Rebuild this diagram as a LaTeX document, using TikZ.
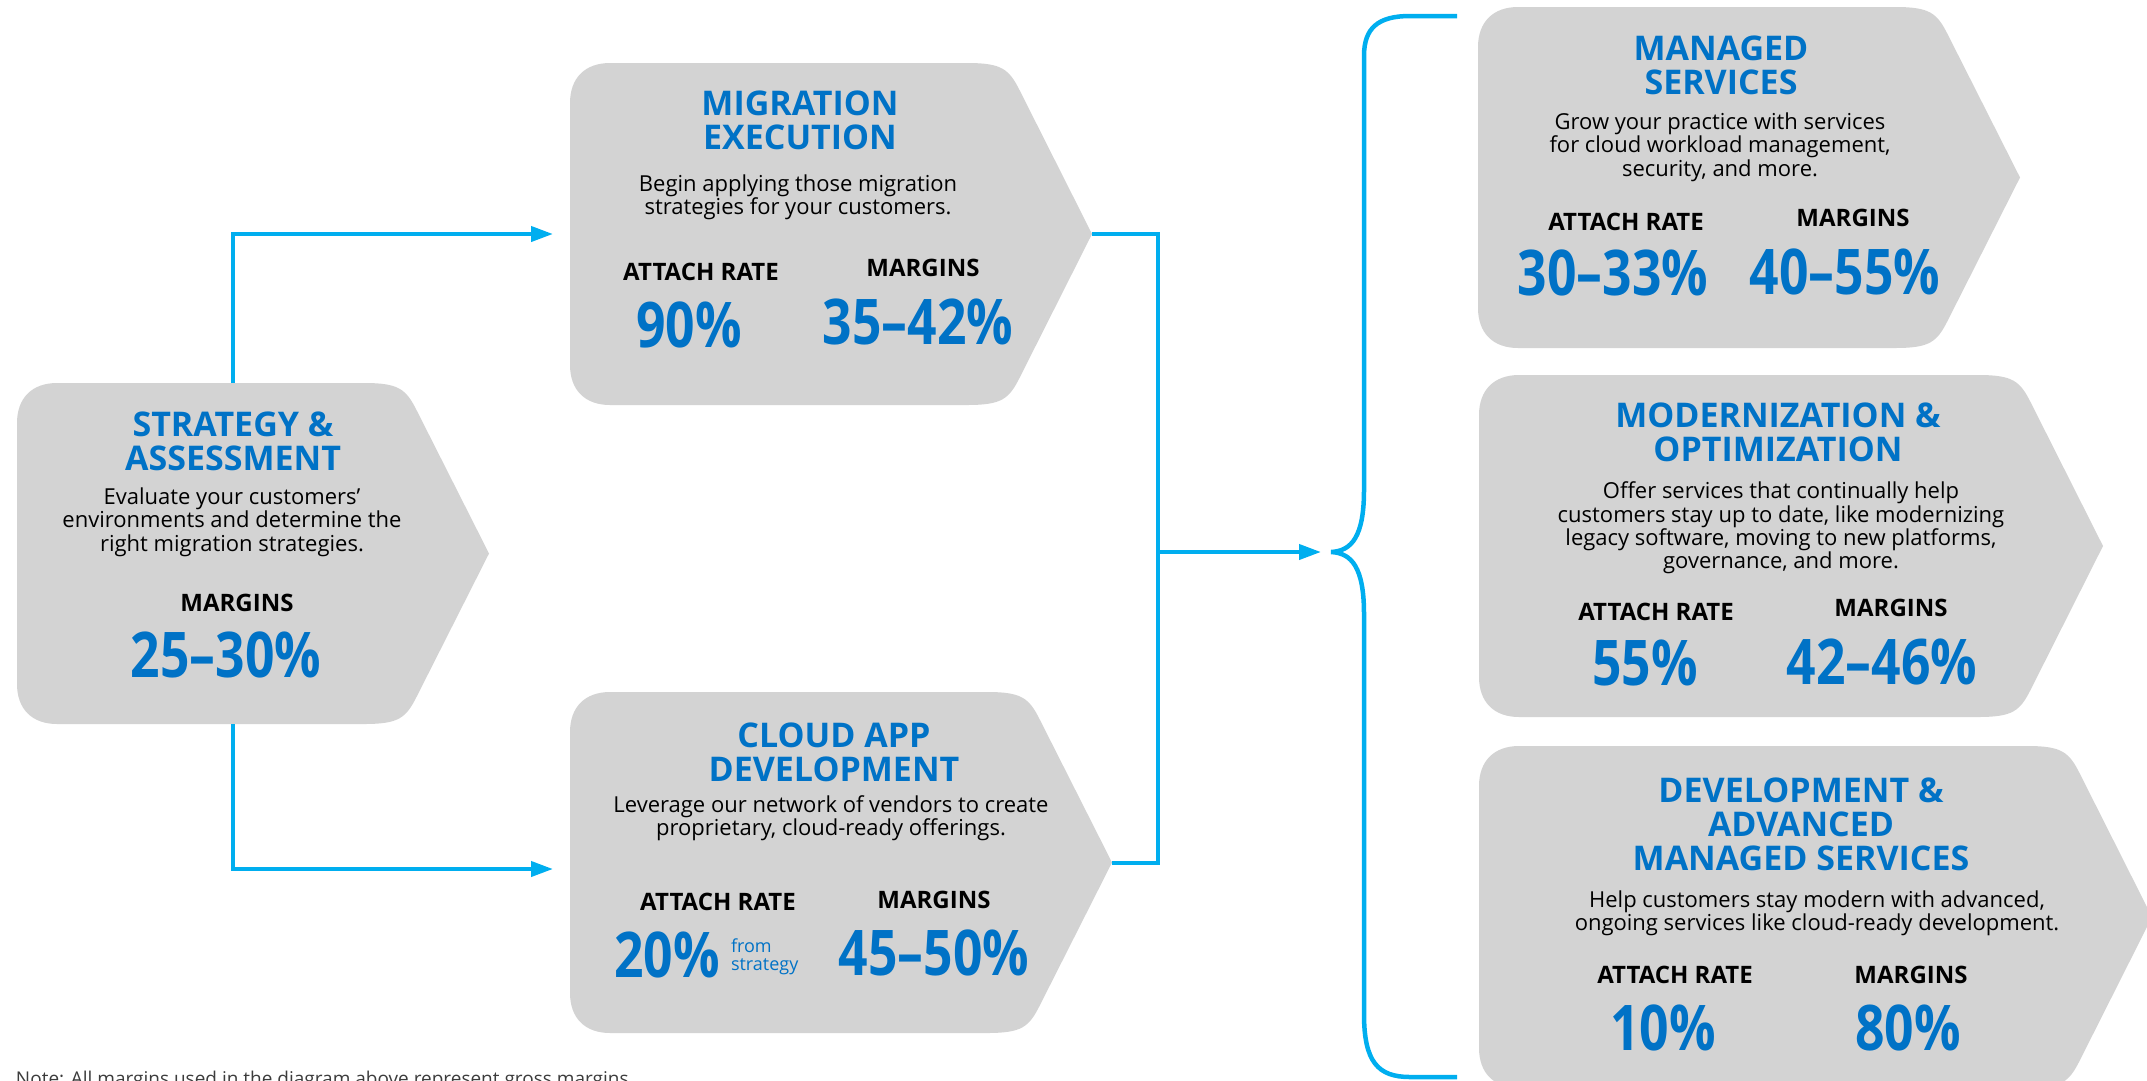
\documentclass[tikz,border=0pt]{standalone}
\usepackage{fontspec}
\setmainfont{Open Sans}
\newfontfamily\numfont[FakeStretch=0.82]{Open Sans}
\usetikzlibrary{arrows.meta}

\definecolor{boxgrey}{RGB}{211,211,211}
\definecolor{headblue}{RGB}{0,114,198}
\definecolor{linkblue}{RGB}{0,174,239}
\definecolor{notegrey}{RGB}{60,60,60}

% grey chevron panel: #1 name, #2 left, #3 top, #4 bottom, #5 tip x
\newcommand{\chevronbox}[5]{%
  \pgfmathsetmacro\cbMid{(#3+#4)/2}%
  \pgfmathsetmacro\cbXs{#5-72}%
  \pgfmathsetmacro\cbK{#5-86}%
  \pgfmathsetmacro\cbS{#5-125}%
  \pgfmathsetmacro\cbTs{#3+28}%
  \pgfmathsetmacro\cbBs{#4-28}%
  \fill[boxfill] (\cbS,#3) -- ({#2+40},#3) .. controls ({#2+15},#3) and (#2,{#3+15}) .. (#2,{#3+40})
     -- (#2,{#4-40}) .. controls (#2,{#4-15}) and ({#2+15},#4) .. ({#2+40},#4)
     -- (\cbS,#4) .. controls ({\cbK-4},#4) and ({\cbK+3},{#4-6}) .. (\cbXs,\cbBs)
     -- (#5,\cbMid) -- (\cbXs,\cbTs)
     .. controls ({\cbK+3},{#3+6}) and ({\cbK-4},#3) .. cycle;
  \coordinate (#1-tip) at (#5,\cbMid);
}

\begin{document}
\begin{tikzpicture}[x=1pt,y=-1pt,
  every node/.style={inner sep=0pt, outer sep=0pt},
  boxfill/.style={fill=boxgrey},
  heading/.style={font=\fontsize{34}{34}\selectfont\bfseries, text=headblue, align=center},
  blurb/.style={font=\fontsize{22}{23.3}\selectfont, text=black, align=center},
  metric/.style={font=\fontsize{24}{26}\selectfont\bfseries, text=black},
  bignum/.style={font=\numfont\bfseries\fontsize{63}{63}\selectfont, text=headblue},
  aside/.style={font=\fontsize{18}{18}\selectfont, text=headblue, align=left},
  connector/.style={draw=linkblue, line width=4pt},
  arrowlink/.style={connector, -{Triangle[length=22pt,width=15pt]}},
]
\useasboundingbox (0,0) rectangle (2147,1080);

% panels
\chevronbox{strat}{17}{383}{724}{489}
\chevronbox{mig}{570}{63}{405}{1092}
\chevronbox{cloud}{570}{692}{1033}{1112}
\chevronbox{managed}{1478}{7}{348}{2020}
\chevronbox{modern}{1479}{375}{717}{2103}
\chevronbox{devel}{1479}{746}{1088}{2152}

% strategy & assessment
\node[heading] (strat-title) at (233,441) {STRATEGY \&\\ASSESSMENT};
\node[blurb] (strat-text) at (232,522) {Evaluate your customers’\\environments and determine the\\right migration strategies.};
\node[metric] (strat-mlabel) at (237,603) {MARGINS};
\node[bignum] (strat-mval) at (226,655) {25–30\%};

% migration execution
\node[heading] (mig-title) at (800,120) {MIGRATION\\EXECUTION};
\node[blurb] (mig-text) at (798,197) {Begin applying those migration\\strategies for your customers.};
\node[metric] (mig-alabel) at (701,272) {ATTACH RATE};
\node[metric] (mig-mlabel) at (923,268) {MARGINS};
\node[bignum] (mig-aval) at (689,325) {90\%};
\node[bignum] (mig-mval) at (918,322) {35–42\%};

% cloud app development
\node[heading] (cloud-title) at (834,752) {CLOUD APP\\DEVELOPMENT};
\node[blurb] (cloud-text) at (831,818) {Leverage our network of vendors to create\\proprietary, cloud-ready offerings.};
\node[metric] (cloud-alabel) at (718,902) {ATTACH RATE};
\node[metric] (cloud-mlabel) at (934,900) {MARGINS};
\node[bignum] (cloud-aval) at (667,955) {20\%};
\node[aside, anchor=west] (cloud-note) at (731,957) {from\\strategy};
\node[bignum] (cloud-mval) at (934,953) {45–50\%};

% managed services
\node[heading] (managed-title) at (1721,65) {MANAGED\\SERVICES};
\node[blurb] (managed-text) at (1720,147) {Grow your practice with services\\for cloud workload management,\\security, and more.};
\node[metric] (managed-alabel) at (1626,222) {ATTACH RATE};
\node[metric] (managed-mlabel) at (1853,218) {MARGINS};
\node[bignum] (managed-aval) at (1613,273) {30–33\%};
\node[bignum] (managed-mval) at (1845,272) {40–55\%};

% modernization & optimization
\node[heading] (modern-title) at (1778,432) {MODERNIZATION \&\\OPTIMIZATION};
\node[blurb] (modern-text) at (1781,528) {Offer services that continually help\\customers stay up to date, like modernizing\\legacy software, moving to new platforms,\\governance, and more.};
\node[metric] (modern-alabel) at (1656,612) {ATTACH RATE};
\node[metric] (modern-mlabel) at (1891,608) {MARGINS};
\node[bignum] (modern-aval) at (1645,663) {55\%};
\node[bignum] (modern-mval) at (1882,662) {42–46\%};

% development & advanced managed services
\node[heading] (devel-title) at (1801,824) {DEVELOPMENT \&\\ADVANCED\\MANAGED SERVICES};
\node[blurb] (devel-text) at (1817,913) {Help customers stay modern with advanced,\\ongoing services like cloud-ready development.};
\node[metric] (devel-alabel) at (1675,975) {ATTACH RATE};
\node[metric] (devel-mlabel) at (1911,975) {MARGINS};
\node[bignum] (devel-aval) at (1663,1028) {10\%};
\node[bignum] (devel-mval) at (1908,1028) {80\%};

% footnote
\node[anchor=base west, font=\fontsize{19}{20}\selectfont, text=notegrey] (footnote) at (16,1085)
  {Note: All margins used in the diagram above represent gross margins.};

% connection points
\coordinate (strat-top) at (233,383);
\coordinate (strat-bot) at (233,724);
\coordinate (mig-in) at (553,234);
\coordinate (cloud-in) at (553,869);
\coordinate (bus) at (1158,552);
\coordinate (brace-in) at (1321,552);

% connectors
\draw[arrowlink] (strat-top) |- (mig-in);
\draw[arrowlink] (strat-bot) |- (cloud-in);
\draw[connector] (mig-tip) -| (bus) |- (cloud-tip);
\draw[arrowlink] (bus) -- (brace-in);

% curly brace gathering the three service panels
\draw[connector, line width=4.5pt]
  (1457,16) -- (1410,16) .. controls (1378,16) and (1364,28) .. (1364,56)
  -- (1364,490) .. controls (1364,536) and (1352,551) .. (1331,552)
  .. controls (1352,553) and (1364,568) .. (1364,614)
  -- (1364,1014) .. controls (1364,1062) and (1378,1077) .. (1410,1077) -- (1457,1077);
\end{tikzpicture}
\end{document}
